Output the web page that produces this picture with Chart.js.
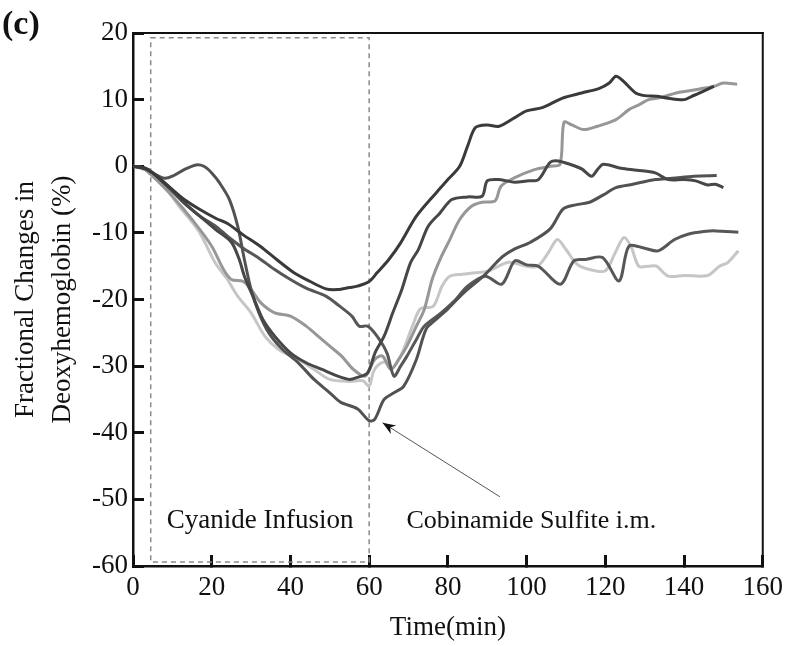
<!DOCTYPE html>
<html>
<head>
<meta charset="utf-8">
<script src="https://cdn.jsdelivr.net/npm/chart.js@4.4.0/dist/chart.umd.min.js"></script>
<style>
  html, body { margin: 0; padding: 0; background: #fff; }
  #wrap { width: 800px; height: 646px; position: relative; }
</style>
</head>
<body>
<div id="wrap"><canvas id="chart"></canvas></div>
<script>
// values (time in min, fractional change in %)
var xTicks = [0, 20, 40, 60, 80, 100, 120, 140, 160];
var yTicks = [-60, -50, -40, -30, -20, -10, 0, 10, 20];

var tA = [0,3,5,9,13,17,21,24,28,32.3,36.5,40.7,45,49,52,55,57,60,62,65,68,72,77,80,83,85,87,90,93,97,100,104,109,114,118.5,121,122.7,124.5,127.7,130,133,136,140,142,144,147.6];
var vA = [0,-0.3,-1,-3,-5,-6.5,-7.8,-8.6,-10.3,-12,-14,-15.9,-17.3,-18.4,-18.5,-18.2,-18,-17.3,-16,-14,-11.5,-7.5,-4,-2,0,3,5.8,6.2,6,7.3,8.3,8.8,10.2,11,11.7,12.5,13.5,12.8,11,10.6,10.5,10.2,10,10.5,11,12];

var tC = [0,3,5,9,13,17,21,25,27,28.3,30.8,33,36,40,44,48,52,55,57,59.6,61.5,63.8,66,68.3,70.5,72.5,75,78,81,85,88.7,90,93,97,100,103,106,108,111,114,116.5,118,119.5,124,128,132.7,136,140,143,146,148,150];
var vC = [0,-0.3,-1,-3,-5.5,-7.5,-9.5,-11.4,-14,-16.5,-20,-23,-25.5,-28,-29.5,-30.5,-31.5,-32,-31.7,-31,-28,-25.5,-22,-18.5,-14.5,-12.5,-9,-7,-5,-4.6,-4.5,-2.2,-2,-2.4,-2.2,-2,0.6,0.8,0.3,-0.4,-1.5,-0.5,0.3,-0.3,-0.6,-1,-2,-2,-2.2,-2.8,-2.7,-3.2];

var tD = [0,3,5,8,10,13,16,18,20,22,24.5,26.6,28.3,30,32,34.5,38,42,46,50,52.7,57,60,61.4,63.8,66.3,68.8,72,74.5,77,80,84,89,92.4,94,97,101,106,109.3,112.5,116,119.5,122.7,127,132.7,137,142.6,148.3];
var vD = [0,-0.3,-1,-1.8,-1.5,-0.5,0.2,0,-1,-2.5,-5,-9,-14,-18.5,-22,-25,-27.5,-29.5,-32,-34,-35.4,-36.4,-38.2,-38,-35,-34,-33,-29,-24.4,-23,-21.4,-19,-16.5,-14.4,-13.5,-12.4,-11.4,-9.4,-6.4,-5.8,-5.4,-4.3,-3.2,-2.7,-2,-1.8,-1.5,-1.4];

var tE = [0,3,5,9,13,17,21,24,28,32,36,40,44,49,52.5,55.6,57.5,59.6,62,64.5,66.3,68,69.6,72,74,78.3,82,85,89.5,93.7,97,100,103,108.6,112,115,119.3,123.5,126,130,133.4,137.6,141,145,148,153.8];
var vE = [0,-0.3,-1,-3.2,-5.5,-7.5,-9,-10.5,-12.3,-13.8,-15.5,-17,-18.3,-19.5,-21,-22.5,-24,-24,-25.5,-28,-31.5,-30,-28.5,-26,-24,-22,-20,-18,-16.5,-17.7,-14.2,-14.8,-15,-17.7,-14.2,-14,-13.7,-17.2,-12,-12.3,-12.7,-11,-10.2,-9.8,-9.7,-9.9];

var tB = [0,3,5,10,15,20,23,25,28,30,32.5,36,40,44,47,50,53,56,59,61.4,63.4,65.5,67.5,69.6,72,74,76,78,80.5,83,86,88.7,92,93.5,97,102,106,108.5,109.5,111.5,114.5,118,122.7,126,128.5,131,134,138,141,144,147.6,150,153.5];
var vB = [0,-0.5,-1.5,-4.5,-8,-12,-15.5,-17,-17.3,-18.5,-20.5,-22,-22.5,-24,-25.5,-27,-28.5,-30.5,-31.5,-29,-28.5,-30.5,-29,-27,-24,-21.5,-17,-14,-11,-8,-6,-5.4,-5.2,-3,-1.7,-0.5,0,0.3,6.6,6.2,5.5,6,7,8.5,9.2,10,10.3,11,11.3,11.6,12,12.5,12.3];

var tF = [0,4,8,11.7,14.5,17,20.8,24,26.6,30,33.5,37,42,46,50,55,58.4,60,61,62,64,65.6,68,71,73,76.3,78.5,80.5,83.7,87,90.4,95.4,100,102.8,105.5,107.8,110,112.8,116,120,122.5,124.7,126.5,128.5,131,133,136,140,146,149,151,153.8];
var vF = [0,-0.5,-3,-6,-8,-10,-14.4,-17,-19.5,-22,-25.5,-27.5,-29,-30.5,-32,-32.3,-32.2,-33,-31,-30,-29.4,-30.4,-28.5,-24,-21.4,-21,-18,-16.5,-16.2,-16,-15.7,-14.4,-15,-15,-13,-11,-12.5,-14.7,-15.5,-15.7,-13,-10.7,-12,-15,-15,-15,-16.5,-16.4,-16.4,-15,-14.5,-12.7];

function pts(t, v) {
  return t.map(function (x, i) { return { x: x, y: v[i] }; });
}

function series(t, v, color) {
  return {
    data: pts(t, v),
    borderColor: color,
    borderWidth: 3,
    pointRadius: 0,
    tension: 0.3,
    fill: false
  };
}

var serif = '"Liberation Serif", "Times New Roman", serif';

// tick marks pointing into the plot: negative tick length, grid kept off the chart area
var inwardGrid = {
  display: true,
  drawOnChartArea: false,
  drawTicks: true,
  tickLength: -11,
  tickWidth: 3,
  tickColor: '#111',
  color: '#111',
  lineWidth: 3
};

// top/right frame
var frame = {
  id: 'frame',
  afterDraw: function (chart) {
    var ctx = chart.ctx, a = chart.chartArea;
    ctx.save();
    ctx.fillStyle = '#111';
    ctx.fillRect(a.left, a.top - 1, a.right - a.left + 1, 2);
    ctx.fillRect(a.right - 1, a.top - 1, 2, a.bottom - a.top + 1);
    ctx.restore();
  }
};

// dashed infusion box, arrow and the two labels
var notes = {
  id: 'notes',
  beforeDatasetsDraw: function (chart) {
    var ctx = chart.ctx, sx = chart.scales.x, sy = chart.scales.y;
    ctx.save();
    ctx.strokeStyle = '#8a8a8a';
    ctx.lineWidth = 1.5;
    ctx.setLineDash([5, 4]);
    var x0 = sx.getPixelForValue(4.5), x1 = sx.getPixelForValue(60);
    var y0 = sy.getPixelForValue(19.3), y1 = sy.getPixelForValue(-59.4);
    ctx.strokeRect(x0, y0, x1 - x0, y1 - y0);
    ctx.restore();
  },
  afterDatasetsDraw: function (chart) {
    var ctx = chart.ctx, sx = chart.scales.x, sy = chart.scales.y;
    ctx.save();
    var tx = sx.getPixelForValue(93.2), ty = sy.getPixelForValue(-49.6);
    var hx = sx.getPixelForValue(63.4), hy = sy.getPixelForValue(-38.5);
    ctx.strokeStyle = '#555';
    ctx.lineWidth = 1;
    ctx.beginPath();
    ctx.moveTo(tx, ty);
    ctx.lineTo(hx, hy);
    ctx.stroke();
    var ang = Math.atan2(hy - ty, hx - tx);
    ctx.fillStyle = '#111';
    ctx.beginPath();
    ctx.moveTo(hx, hy);
    ctx.lineTo(hx - 13 * Math.cos(ang) + 5 * Math.sin(ang), hy - 13 * Math.sin(ang) - 5 * Math.cos(ang));
    ctx.lineTo(hx - 9 * Math.cos(ang), hy - 9 * Math.sin(ang));
    ctx.lineTo(hx - 13 * Math.cos(ang) - 5 * Math.sin(ang), hy - 13 * Math.sin(ang) + 5 * Math.cos(ang));
    ctx.closePath();
    ctx.fill();

    ctx.textAlign = 'center';
    ctx.textBaseline = 'middle';
    ctx.font = '27px ' + serif;
    ctx.fillText('Cyanide Infusion', sx.getPixelForValue(32.3), sy.getPixelForValue(-53.2));
    ctx.font = '26px ' + serif;
    ctx.fillText('Cobinamide Sulfite i.m.', sx.getPixelForValue(101.2), sy.getPixelForValue(-53.2));

    ctx.textAlign = 'left';
    ctx.font = 'bold 34px ' + serif;
    ctx.fillText('(c)', 2, 25);
    ctx.restore();
  }
};

new Chart(document.getElementById('chart'), {
  type: 'line',
  data: {
    datasets: [
      series(tA, vA, '#3a3a3a'),
      series(tC, vC, '#474747'),
      series(tD, vD, '#525252'),
      series(tE, vE, '#575757'),
      series(tB, vB, '#979797'),
      series(tF, vF, '#c6c6c6')
    ]
  },
  options: {
    responsive: true,
    maintainAspectRatio: false,
    animation: false,
    layout: { padding: { top: 33, right: 23, left: 0, bottom: 0 } },
    plugins: { legend: { display: false }, tooltip: { enabled: false } },
    scales: {
      x: {
        type: 'linear',
        min: 0, max: 160,
        afterFit: function (s) { s.height = 80; },
        afterBuildTicks: function (s) { s.ticks = xTicks.map(function (v) { return { value: v }; }); },
        grid: inwardGrid,
        border: { display: true, color: '#111', width: 2.5 },
        ticks: { color: '#111', padding: 17, maxRotation: 0, autoSkip: false, font: { family: serif, size: 27 } },
        title: { display: true, text: 'Time(min)', color: '#111', padding: { top: 0, bottom: 2 }, font: { family: serif, size: 27, lineHeight: 1.2 } }
      },
      y: {
        min: -60, max: 20,
        afterFit: function (s) { s.width = 133; },
        afterBuildTicks: function (s) { s.ticks = yTicks.map(function (v) { return { value: v }; }); },
        grid: inwardGrid,
        border: { display: true, color: '#111', width: 2.5 },
        ticks: { color: '#111', padding: 16, autoSkip: false, font: { family: serif, size: 27 } },
        title: { display: true, text: ['Fractional Changes in', 'Deoxyhemoglobin (%)'], color: '#111', padding: { top: 8, bottom: 0 }, font: { family: serif, size: 27, lineHeight: 1.35 } }
      }
    }
  },
  plugins: [notes, frame]
});
</script>
</body>
</html>
